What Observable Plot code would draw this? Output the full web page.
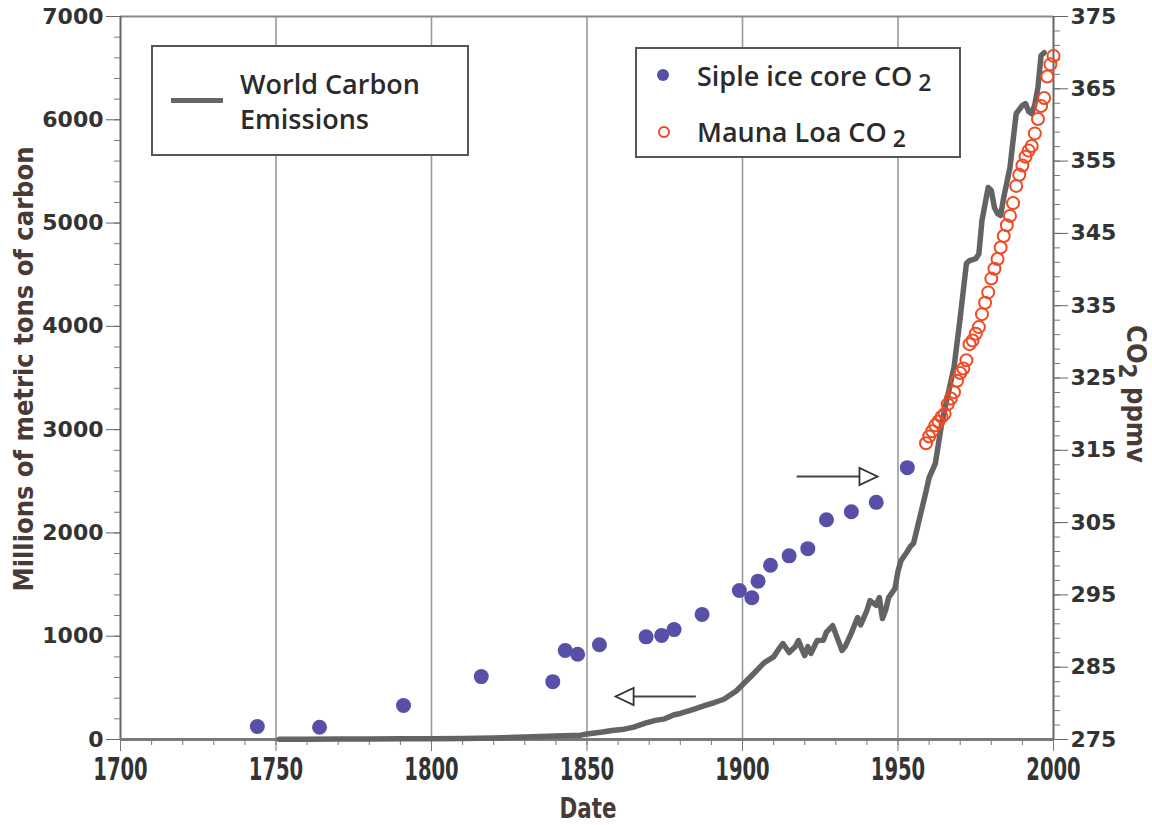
<!DOCTYPE html>
<html><head><meta charset="utf-8">
<script src="https://cdn.jsdelivr.net/npm/d3@7"></script>
<script src="https://cdn.jsdelivr.net/npm/@observablehq/plot@0.6"></script>
<style>
body{margin:0;background:#fff;}
#wrap{position:relative;width:1152px;height:825px;overflow:hidden;}
.lg{position:absolute;background:#fff;border:2px solid #555;box-sizing:border-box;font-family:"Open Sans";font-weight:600;color:#2b2b2b;font-size:27px;}
.lg span.t{position:absolute;white-space:nowrap;}
.lg sub{font-size:23px;position:relative;top:5px;vertical-align:baseline;margin-left:6px;}
</style></head><body><div id="wrap"></div>
<script>
// World carbon emissions (million metric tons of carbon)
const emYears = [1751,1760,1770,1780,1790,1800,1810,1820,1830,1840,1848,1850,1855,1858,1862,1865,1869,1872,1875,1878,1880,1884,1888,1891,1894,1898,1900,1903,1907,1910,1912,1913,1915,1917,1918,1919,1920,1921,1922,1924,1926,1927,1929,1930,1932,1933,1935,1937,1938,1940,1941,1943,1944,1945,1946,1947,1949,1950,1951,1953,1954,1955,1957,1959,1960,1962,1964,1966,1968,1970,1972,1973,1975,1976,1977,1979,1980,1981,1982,1983,1984,1986,1988,1990,1991,1992,1993,1994,1995,1996,1997];
const emValues = [3,3,4,5,7,8,10,14,24,33,42,54,72,87,100,120,160,185,200,240,252,290,330,358,390,470,530,620,745,800,890,929,842,900,958,880,813,900,833,958,960,1040,1103,1020,862,900,1030,1181,1110,1249,1345,1300,1375,1171,1250,1375,1460,1630,1733,1820,1870,1900,2149,2400,2536,2672,3050,3330,3600,4085,4608,4637,4656,4700,5024,5344,5315,5150,5092,5073,5250,5537,6060,6140,6157,6080,6060,6150,6312,6622,6650];
// Siple ice core CO2 (ppmv)
const sipleYears = [1744,1764,1791,1816,1839,1843,1847,1854,1869,1874,1878,1887,1899,1903,1905,1909,1915,1921,1927,1935,1943,1953];
const siplePpm = [276.8,276.7,279.7,283.7,283.0,287.3,286.8,288.1,289.2,289.4,290.2,292.3,295.6,294.6,296.9,299.1,300.4,301.4,305.4,306.5,307.8,312.6];
// Mauna Loa CO2 (ppmv)
const maunaYears = [1959,1960,1961,1962,1963,1964,1965,1966,1967,1968,1969,1970,1971,1972,1973,1974,1975,1976,1977,1978,1979,1980,1981,1982,1983,1984,1985,1986,1987,1988,1989,1990,1991,1992,1993,1994,1995,1996,1997,1998,1999,2000];
const maunaPpm = [315.97,316.91,317.64,318.45,318.99,319.62,320.04,321.38,322.16,323.04,324.62,325.68,326.32,327.45,329.68,330.18,331.11,332.04,333.83,335.40,336.84,338.75,340.11,341.45,343.05,344.65,346.12,347.42,349.19,351.57,353.12,354.39,355.61,356.45,357.10,358.83,360.82,362.61,363.73,366.70,368.38,369.55];
// ticks
const xMajor = [1700,1750,1800,1850,1900,1950,2000];
const xMinor = d3.range(1700, 2001, 10);
const gridYears = [1750,1800,1850,1900,1950];
const leftMajor = [0,1000,2000,3000,4000,5000,6000,7000];
const leftMinor = d3.range(0, 7001, 200);
const rightMajor = [275,285,295,305,315,325,335,345,355,365,375];
const rightMinor = d3.range(275, 375.1, 2);
// annotation arrows: direction arrows pointing to the matching axis
const arrowTail = [1885, 1917.4];
const arrowTip = [1859.2, 1943.4];
const arrowLevel = [416, 2546];
const arrowRotate = [180, 0];

const ppmMin = 275, ppmPerUnit = 70; // right axis: 275..375 ppm maps onto 0..7000
const toLeft = p => (p - ppmMin) * ppmPerUnit;

const emissions = emYears.map((year, i) => ({year, value: emValues[i]}));
const siple = sipleYears.map((year, i) => ({year, ppm: siplePpm[i]}));
const mauna = maunaYears.map((year, i) => ({year, ppm: maunaPpm[i]}));
const arrows = arrowTail.map((t, i) => ({x1: t, x2: arrowTip[i], y: arrowLevel[i], rot: arrowRotate[i]}));

const headSymbol = {draw(ctx) { ctx.moveTo(0, 0); ctx.lineTo(-18, -8.5); ctx.lineTo(-18, 8.5); ctx.closePath(); }};

const tickFont = {fontFamily: "DejaVu Sans", fontWeight: "bold", fontSize: 22, fill: "#333", stroke: "#666"};
const condFont = '"DejaVu Sans Condensed","DejaVu Sans"';

const chart = Plot.plot({
  width: 1152, height: 825,
  marginLeft: 120, marginRight: 99, marginTop: 16, marginBottom: 86,
  x: {domain: [1700, 2000]},
  y: {domain: [0, 7000]},
  style: {background: "white", overflow: "visible"},
  marks: [
    Plot.ruleX(gridYears, {stroke: "#9a9a9a", strokeWidth: 1.6}),
    Plot.ruleY([7000], {stroke: "#8a8a8a", strokeWidth: 2}),
    Plot.ruleX([1700], {stroke: "#666", strokeWidth: 2}),
    Plot.ruleX([2000], {stroke: "#666", strokeWidth: 2}),
    Plot.axisY({anchor: "left", ticks: leftMinor, tickSize: 6, tickFormat: () => "", label: null, stroke: "#777"}),
    Plot.axisY({anchor: "left", ticks: leftMajor, tickSize: 14, tickPadding: 3, tickFormat: d => String(d), label: null, ...tickFont}),
    Plot.axisY({anchor: "right", ticks: rightMinor.map(toLeft), tickSize: 6, tickFormat: () => "", label: null, stroke: "#777"}),
    Plot.axisY({anchor: "right", ticks: rightMajor.map(toLeft), tickSize: 14, tickPadding: 3, tickFormat: d => String(Math.round(d / ppmPerUnit + ppmMin)), label: null, ...tickFont}),
    Plot.axisX({ticks: xMinor, tickSize: 6, tickFormat: () => "", label: null, stroke: "#777"}),
    Plot.axisX({ticks: xMajor, tickSize: 12, tickPadding: 6, tickFormat: d => String(d), label: null, fontFamily: condFont, fontWeight: "bold", fontSize: 32, fill: "#333", stroke: "#777"}),
    Plot.ruleY([0], {stroke: "#7a7a7a", strokeWidth: 3}),
    Plot.line(emissions, {x: "year", y: "value", stroke: "#636363", strokeWidth: 5.5, strokeLinejoin: "round"}),
    Plot.dot(siple, {x: "year", y: d => toLeft(d.ppm), r: 7.5, fill: "#5850a8"}),
    Plot.dot(mauna, {x: "year", y: d => toLeft(d.ppm), r: 6, stroke: "#f04a25", strokeWidth: 2, fill: "none"}),
    Plot.link(arrows, {x1: "x1", x2: "x2", y1: "y", y2: "y", stroke: "#444", strokeWidth: 2}),
    Plot.dot(arrows, {x: "x2", y: "y", symbol: headSymbol, rotate: "rot", fill: "white", stroke: "#333", strokeWidth: 1.8})
  ]
});

const svg = d3.select(chart);
// narrow the bottom tick labels to match the condensed face of the original
function squeeze(sel, k) {
  sel.each(function () {
    const t = this.getAttribute("transform");
    if (t) this.setAttribute("transform", t + ` scale(${k},1)`);
    else {
      const x = +this.getAttribute("x") || 0;
      this.setAttribute("transform", `translate(${x * (1 - k)},0) scale(${k},1)`);
    }
  });
}
squeeze(svg.selectAll('g[aria-label="x-axis tick label"] text'), 0.68);

const titleColor = "#4a3a35";
svg.append("text").attr("transform", "translate(33,369) rotate(-90)").attr("text-anchor", "middle")
  .attr("font-family", condFont).attr("font-weight", "bold").attr("font-size", 27).attr("fill", titleColor)
  .text("Millions of metric tons of carbon");
svg.append("text").attr("transform", "translate(588,818) scale(0.85,1)").attr("text-anchor", "middle")
  .attr("font-family", condFont).attr("font-weight", "bold").attr("font-size", 28).attr("fill", titleColor)
  .text("Date");
const rt = svg.append("text").attr("transform", "translate(1127,394) rotate(90)").attr("text-anchor", "middle")
  .attr("font-family", condFont).attr("font-weight", "bold").attr("font-size", 27).attr("fill", titleColor);
rt.append("tspan").text("CO");
rt.append("tspan").attr("dy", 8).attr("font-size", 24).text("2");
rt.append("tspan").attr("dy", -8).text(" ppmv");

const wrap = document.getElementById("wrap");
wrap.appendChild(chart);

const lg1 = document.createElement("div");
lg1.className = "lg";
lg1.style.cssText = "left:151px;top:45px;width:318px;height:111px;";
lg1.innerHTML = '<div style="position:absolute;left:18px;top:51px;width:52px;height:5px;background:#666"></div>' +
  '<span class="t" style="left:87px;top:19px;line-height:35px">World Carbon<br>Emissions</span>';
wrap.appendChild(lg1);

const lg2 = document.createElement("div");
lg2.className = "lg";
lg2.style.cssText = "left:635px;top:47px;width:326px;height:111px;";
lg2.innerHTML = '<div style="position:absolute;left:20px;top:20px;width:12px;height:12px;border-radius:50%;background:#5850a8"></div>' +
  '<div style="position:absolute;left:21px;top:77px;width:8px;height:8px;border-radius:50%;border:2px solid #f04a25"></div>' +
  '<span class="t" style="left:60px;top:8px">Siple ice core CO<sub>2</sub></span>' +
  '<span class="t" style="left:60px;top:64px">Mauna Loa CO<sub>2</sub></span>';
wrap.appendChild(lg2);
</script></body></html>
